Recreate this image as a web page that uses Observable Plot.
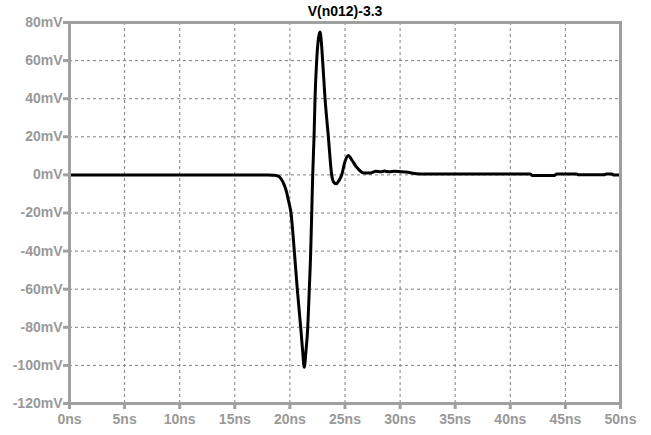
<!DOCTYPE html>
<html>
<head>
<meta charset="utf-8">
<script src="https://cdn.jsdelivr.net/npm/d3@7"></script>
<script src="https://cdn.jsdelivr.net/npm/@observablehq/plot@0.6"></script>
<style>
  html, body { margin: 0; padding: 0; background: #fff; }
  #chart svg { display: block; }
</style>
</head>
<body>
<div id="chart"></div>
<script>
const title = "V(n012)-3.3";
const timeNs = [0, 18, 18.5, 18.8, 19.05, 19.3, 19.5, 19.7, 19.85, 20.1, 20.4, 20.67, 20.98, 21.15, 21.3, 21.45, 21.62, 21.76, 21.89, 21.98, 22.07, 22.19, 22.28, 22.43, 22.6, 22.73, 22.85, 22.97, 23.19, 23.49, 23.79, 24.0, 24.2, 24.45, 24.7, 25.0, 25.3, 25.6, 26.06, 26.7, 27.3, 27.8, 28.2, 28.6, 29.0, 29.5, 30.5, 31.8, 41.8, 42.0, 44.0, 44.2, 46.0, 46.2, 48.5, 48.7, 49.2, 49.4, 50];
const voltageMv = [0, 0, -0.2, -0.4, -1, -3, -5.5, -9, -13, -20, -40, -60, -80, -92, -101, -93, -80, -60, -40, -20, 0, 20, 40, 60, 72, 75, 70, 60, 40, 20, 0, -4, -4.7, -3, 0, 7, 10.2, 8, 4, 1, 1, 1.9, 1.6, 2, 1.6, 1.9, 1.5, 0.5, 0.5, -0.3, -0.3, 0.5, 0.5, 0.1, 0.1, 0.5, 0.5, -0.1, -0.1];
const xTicks = [0, 5, 10, 15, 20, 25, 30, 35, 40, 45, 50];
const yTicks = [-120, -100, -80, -60, -40, -20, 0, 20, 40, 60, 80];

const data = timeNs.map((t, i) => ({t, v: voltageMv[i]}));
const gray = "#a0a0a0";

const chart = Plot.plot({
  width: 651,
  height: 435,
  marginLeft: 69,
  marginRight: 31,
  marginTop: 22,
  marginBottom: 32,
  style: {fontFamily: "'Liberation Sans', Arial, sans-serif", fontSize: "14px", background: "#fff", overflow: "visible"},
  x: {domain: [0, 50]},
  y: {domain: [-120, 80]},
  marks: [
    Plot.gridX(xTicks, {stroke: "#808080", strokeOpacity: 1, strokeDasharray: "3,3"}),
    Plot.gridY(yTicks, {stroke: "#808080", strokeOpacity: 1, strokeDasharray: "3,3"}),
    Plot.line(data, {x: "t", y: "v", stroke: "black", strokeWidth: 3, strokeLinejoin: "round", curve: "monotone-x"}),
    Plot.frame({stroke: gray, strokeWidth: 3}),
    Plot.axisX({ticks: xTicks, tickFormat: d => d + "ns", tickSize: 6, tickPadding: 5, stroke: gray, strokeWidth: 3, color: "#999", fontSize: 14, fontWeight: 600, label: null}),
    Plot.axisY({ticks: yTicks, tickFormat: d => d + "mV", tickSize: 6, tickPadding: 1, stroke: gray, strokeWidth: 3, color: "#999", fontSize: 14, fontWeight: 600, label: null}),
    Plot.text([title], {frameAnchor: "top", dy: -11, text: d => d, fontSize: 14, fontWeight: "bold", fill: "black", lineAnchor: "middle"})
  ]
});
document.getElementById("chart").appendChild(chart);
</script>
</body>
</html>
